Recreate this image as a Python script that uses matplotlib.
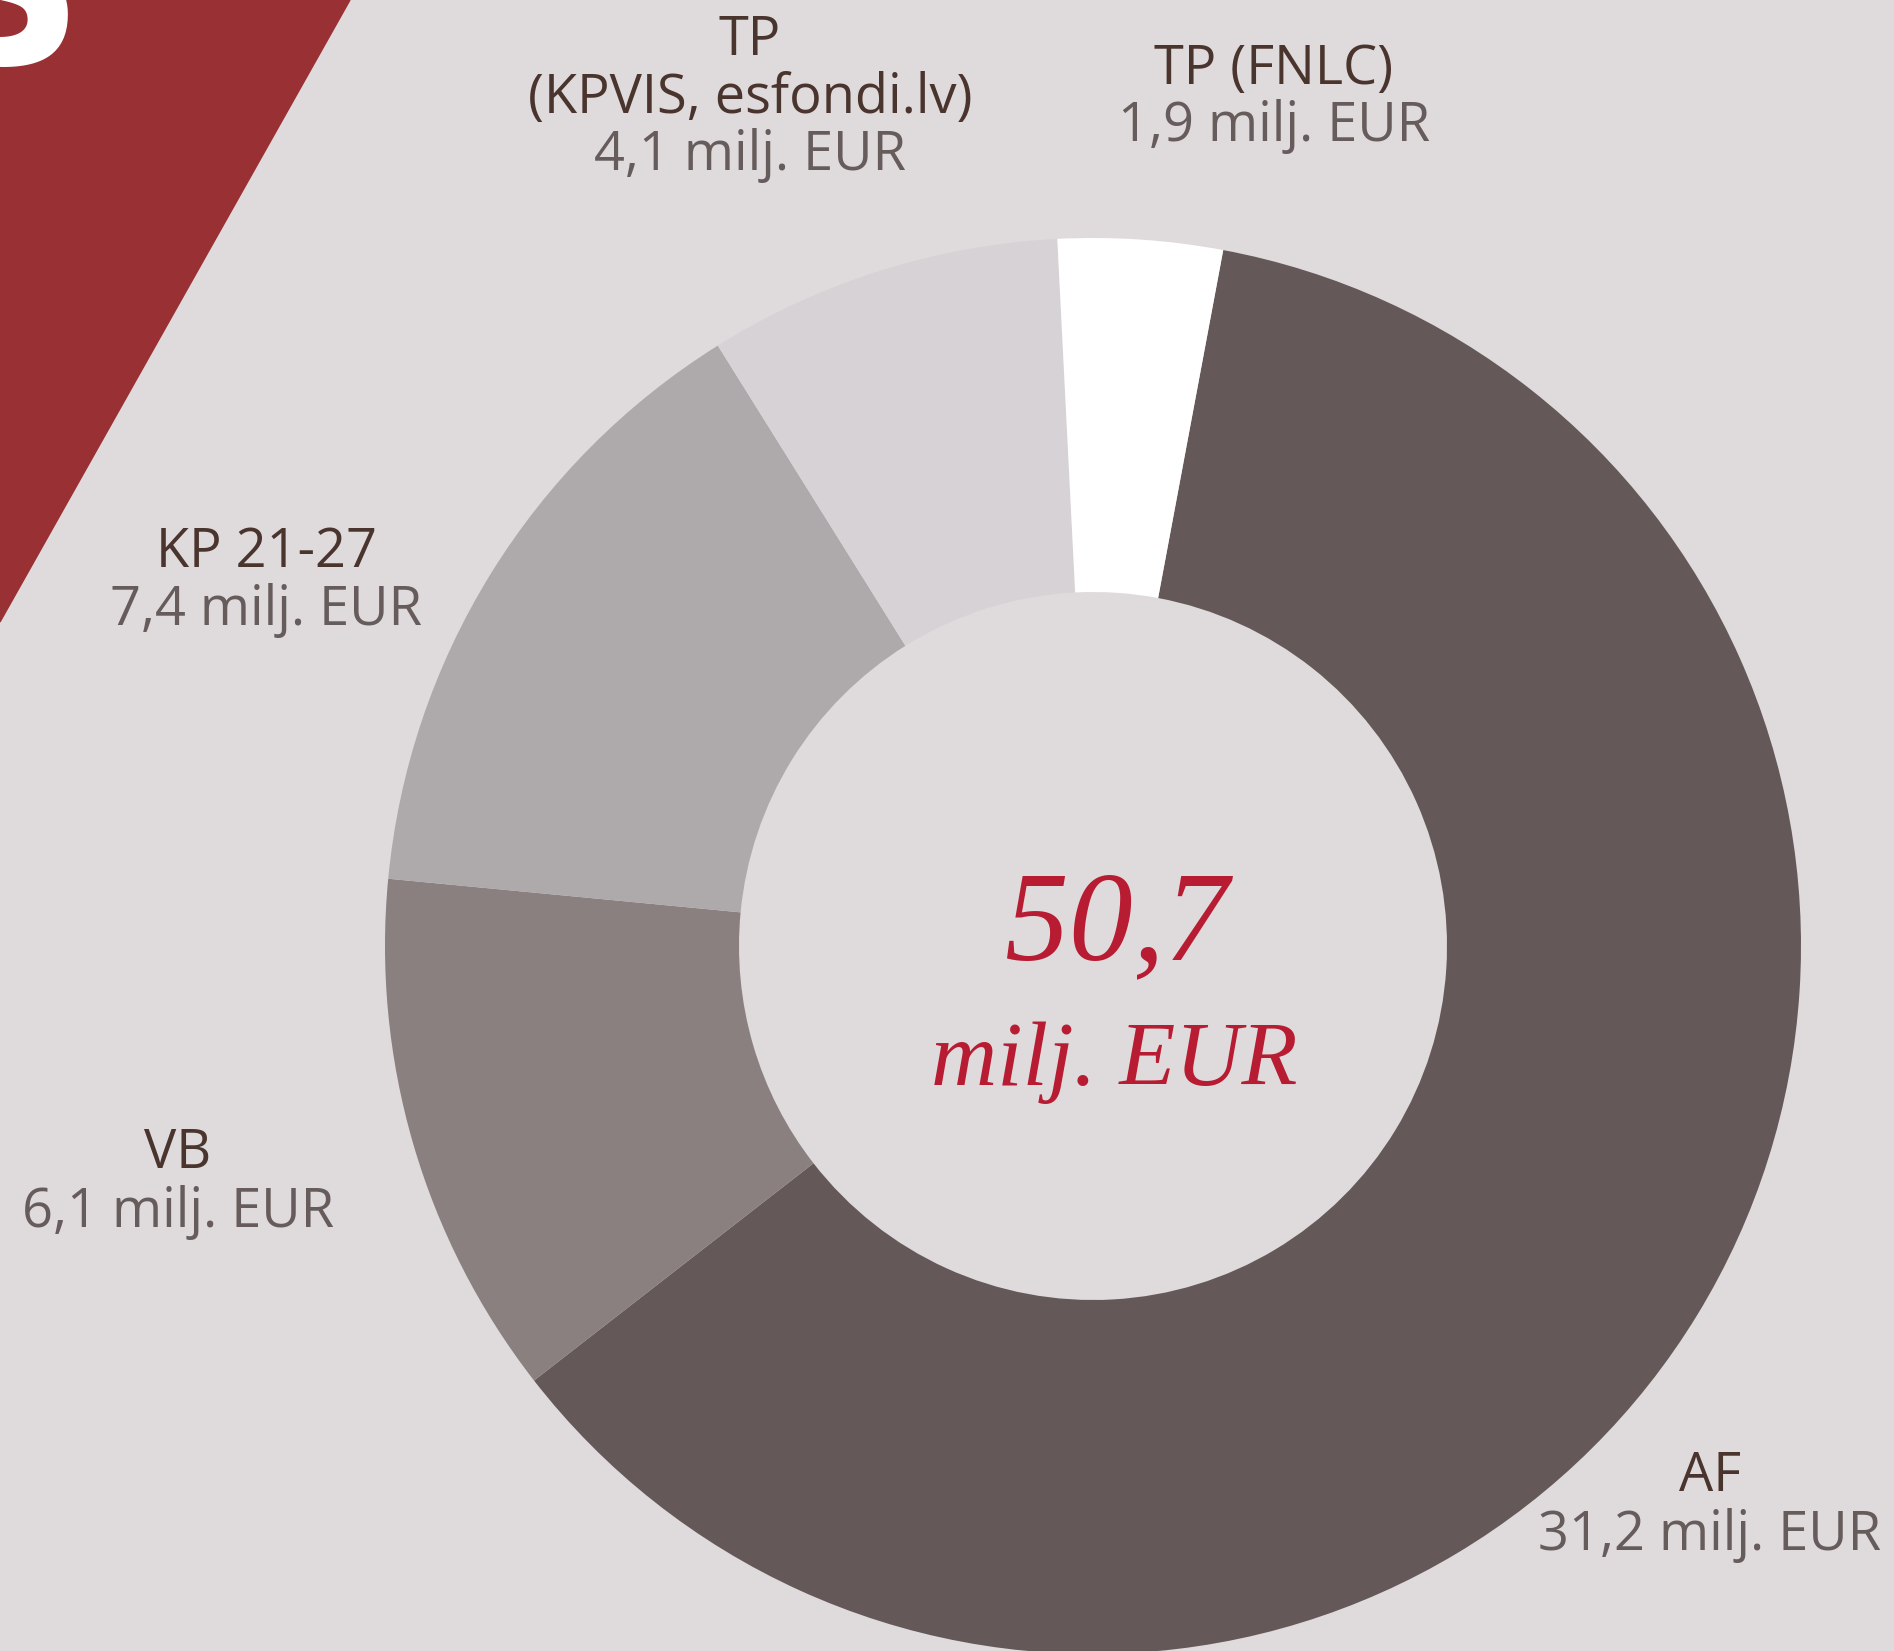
import matplotlib
matplotlib.use('Agg')
import matplotlib.pyplot as plt
from matplotlib.patches import Polygon

# dati: finansējums pa avotiem (milj. EUR)
nosaukumi = ['AF', 'VB', 'KP 21-27', 'TP\n(KPVIS, esfondi.lv)', 'TP (FNLC)']
vertibas = [31.2, 6.1, 7.4, 4.1, 1.9]
vertibu_teksti = ['31,2 milj. EUR', '6,1 milj. EUR', '7,4 milj. EUR', '4,1 milj. EUR', '1,9 milj. EUR']
kopa_teksts = '50,7'
kopa_vieniba = 'milj. EUR'

krasas = ['#645958', '#8a8080', '#aea9aa', '#d6d2d5', '#ffffff']
fons = '#dfdbdc'
sarkans = '#993033'
teksta_krasa = '#4a342e'
peleks = '#675c5c'

W, H = 1894, 1651
fig = plt.figure(figsize=(W / 100, H / 100), dpi=100, facecolor=fons)
ax = fig.add_axes([0, 0, 1, 1])
ax.set_facecolor(fons)

# sarkanais trijstūris augšējā kreisajā stūrī
ax.add_patch(Polygon([(0, H), (350, H), (0, H - 622)], closed=True, color=sarkans, zorder=1))
ax.text(84, H - 64, 'S', color='white', fontsize=160, fontweight='bold',
        ha='right', va='baseline', family='DejaVu Sans', zorder=2)

# donut
ax.pie(vertibas, colors=krasas, center=(1093, H - 946), radius=708,
       startangle=79.4, counterclock=False,
       wedgeprops=dict(width=354, linewidth=0))

# etiķetes (nosaukums + summa), katras rindas y pikseļos no augšas
etiketes_x = [1710, 178, 266, 750, 1274]
etiketes_y = [[1476, 1535], [1153, 1212], [552, 610], [40, 98, 155], [69, 126]]
for nos, vt, x, ys in zip(nosaukumi, vertibu_teksti, etiketes_x, etiketes_y):
    rindas = nos.split('\n')
    for r, y in zip(rindas, ys):
        ax.text(x, H - y, r, color=teksta_krasa, fontsize=39, ha='center', va='center',
                family='Open Sans')
    ax.text(x, H - ys[-1], vt, color=peleks, fontsize=39, ha='center', va='center',
            family='Open Sans')

# kopsumma centrā
ax.text(1117, H - 930, kopa_teksts, color='#b81c32', fontsize=92, ha='center', va='center',
        family='Liberation Serif', style='italic')
ax.text(1114, H - 1063, kopa_vieniba, color='#b81c32', fontsize=66, ha='center', va='center',
        family='Liberation Serif', style='italic')

ax.set_xlim(0, W)
ax.set_ylim(0, H)
ax.set_aspect('auto')
ax.axis('off')

fig.savefig('out.png', dpi=100, facecolor=fons)
